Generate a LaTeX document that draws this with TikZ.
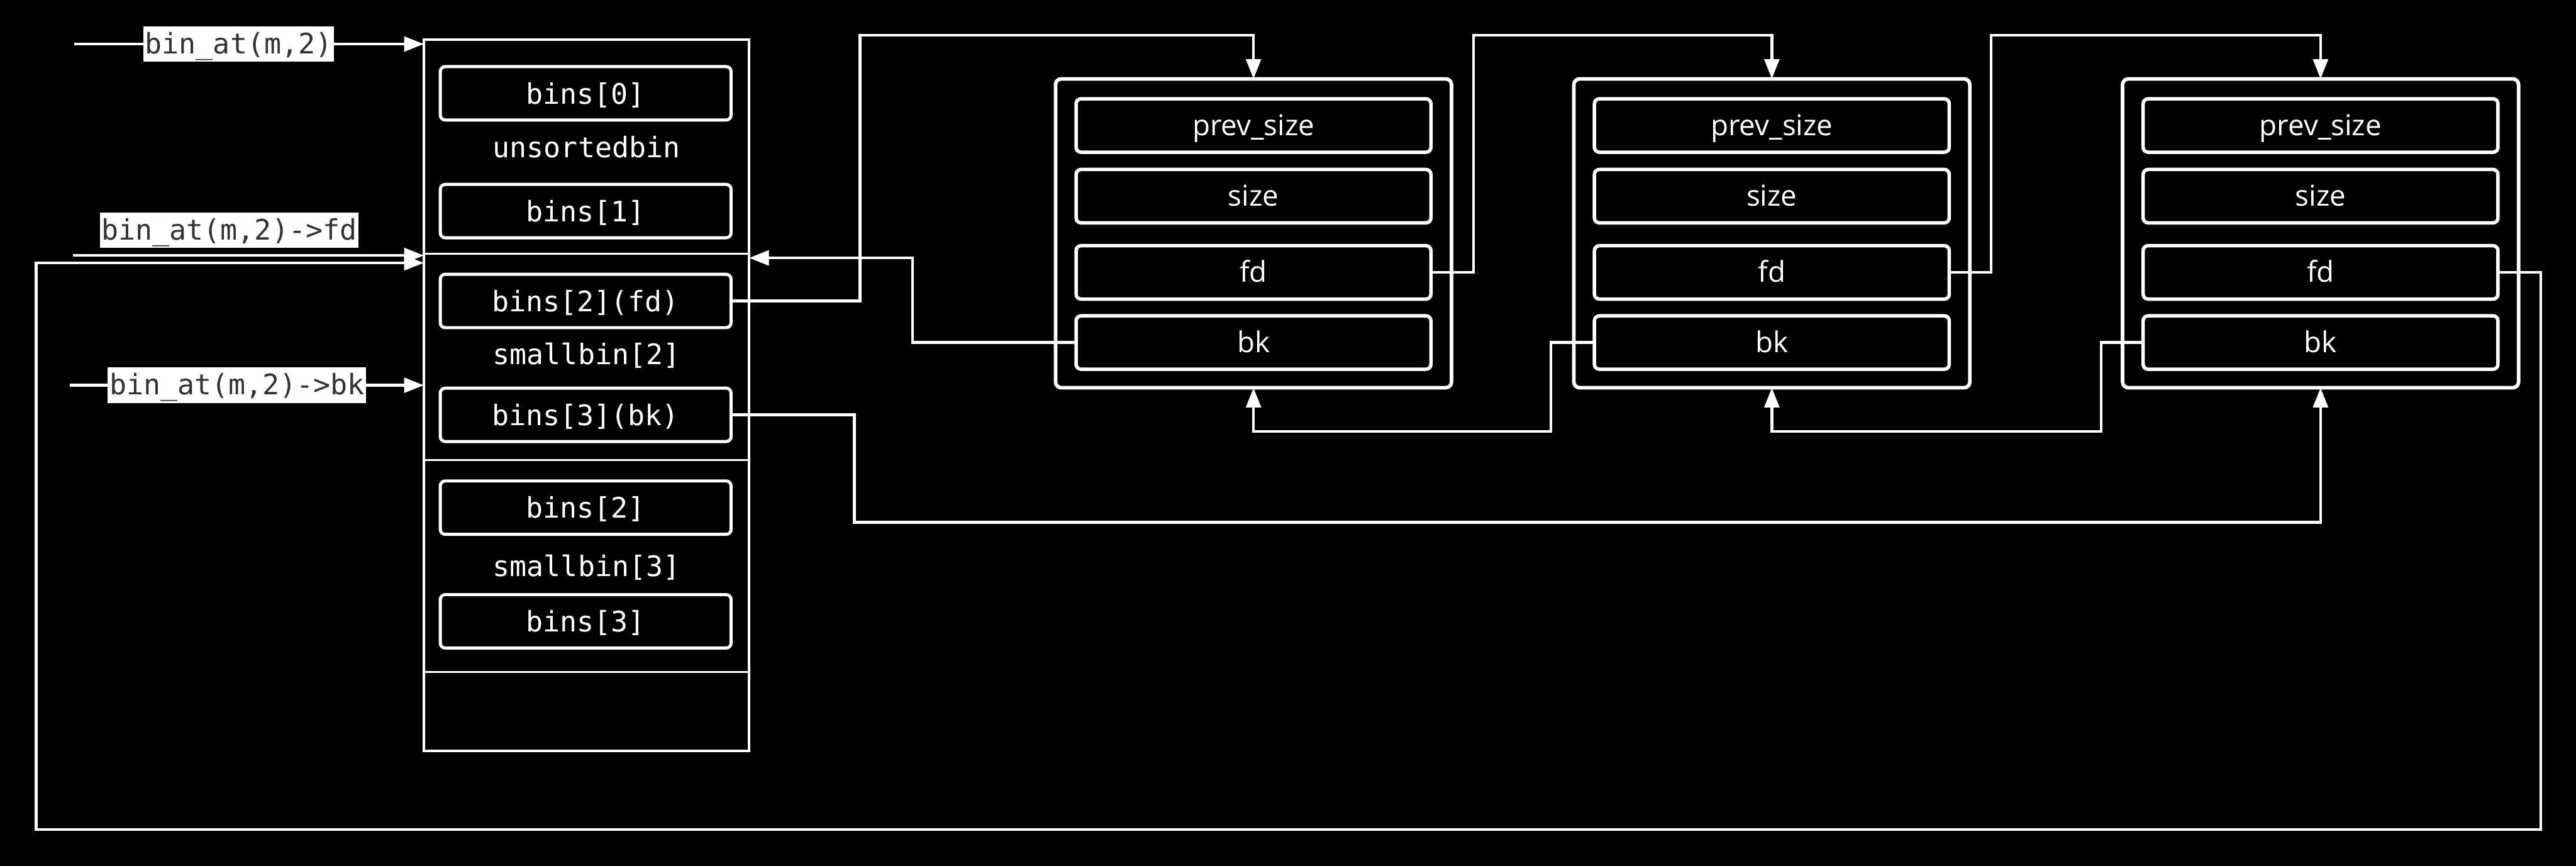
\documentclass[tikz,border=0pt]{standalone}
\usepackage{fontspec}
\setmainfont{Open Sans}
\newfontfamily\monofnt{DejaVu Sans Mono}
\usetikzlibrary{arrows.meta}
\definecolor{labtext}{HTML}{333333}
\begin{document}
\begin{tikzpicture}[x=1pt,y=-1pt,
  every node/.style={inner sep=0pt,outer sep=0pt},
  binsec/.style={draw=white,line width=1.4pt,minimum width=198pt},
  binfield/.style={draw=white,line width=1.9pt,rounded corners=3pt,minimum width=177pt,minimum height=32.5pt,text=white,text height=12.8pt,text depth=0pt,font=\monofnt\fontsize{17.2pt}{20pt}\selectfont},
  bincap/.style={text=white,anchor=base,font=\monofnt\fontsize{17.2pt}{20pt}\selectfont},
  chunkbox/.style={draw=white,line width=2.2pt,rounded corners=3.5pt,minimum width=241pt,minimum height=188pt},
  chunkfield/.style={draw=white,line width=2.1pt,rounded corners=3pt,minimum width=216pt,minimum height=32.5pt,text=white,text height=12pt,text depth=0pt,font=\fontsize{17.5pt}{21pt}\selectfont},
  ptrlabel/.style={fill=white,text=labtext,inner xsep=1pt,minimum height=21.5pt,text height=11.7pt,text depth=0pt,font=\monofnt\fontsize{17.2pt}{20pt}\selectfont},
  conn/.style={draw=white,line width=1.7pt},
  arr/.style={conn,-{Triangle[length=12pt,width=9pt]}}
]
\fill[black] (0,0) rectangle (1568,527);
\useasboundingbox (0,0) rectangle (1568,527);

% bins table
\node[binsec,minimum height=130.5pt] (sec0) at (357,89.25) {};
\node[binsec,minimum height=125.5pt] (sec1) at (357,217.25) {};
\node[binsec,minimum height=129pt] (sec2) at (357,344.5) {};
\node[binsec,minimum height=48pt] (sec3) at (357,433) {};

\node[binfield] (b0) at (356.5,56.8) {bins[0]};
\node[bincap] (cap0) at (357,96) {unsortedbin};
\node[binfield] (b1) at (356.5,128.5) {bins[1]};
\node[binfield] (b2fd) at (356.5,183.2) {bins[2](fd)};
\node[bincap] (cap1) at (357,222) {smallbin[2]};
\node[binfield] (b3bk) at (356.5,252.5) {bins[3](bk)};
\node[binfield] (b2) at (356.5,309) {bins[2]};
\node[bincap] (cap2) at (357,351) {smallbin[3]};
\node[binfield] (b3) at (356.5,378.2) {bins[3]};

% chunks
\foreach \i/\cx in {1/763,2/1078.5,3/1412.5}{
  \node[chunkbox] (c\i) at (\cx,142) {};
  \node[chunkfield] (ps\i) at (\cx,76.4) {prev\_size};
  \node[chunkfield] (sz\i) at (\cx,119.4) {size};
  \node[chunkfield] (fd\i) at (\cx,165.8) {fd};
  \node[chunkfield] (bk\i) at (\cx,208.5) {bk};
}

% pointer labels
\node[ptrlabel] (lab0) at (145.3,26.8) {bin\_at(m,2)};
\node[ptrlabel] (labfd) at (139.5,140.2) {bin\_at(m,2)->fd};
\node[ptrlabel] (labbk) at (144.3,234.5) {bin\_at(m,2)->bk};

% left pointers
\coordinate (s0) at (45,26.8);
\draw[conn] (s0) -- (lab0.west);
\draw[arr] (lab0.east) -- (lab0.east -| sec0.west);

\coordinate (sfd) at (44.5,155.5);
\draw[arr] (sfd) -- (sfd -| sec1.west);

\coordinate (sbk) at (42.6,234.5);
\draw[conn] (sbk) -- (labbk.west);
\draw[arr] (labbk.east) -- (labbk.east -| sec1.west);

% fd chain
\coordinate (r0) at (523.5,21.4);
\draw[arr] (b2fd.east) -| (r0) -| (c1.north);
\coordinate (r1) at (897,21.4);
\draw[arr] (fd1.east) -| (r1) -| (c2.north);
\coordinate (r2) at (1212,21.4);
\draw[arr] (fd2.east) -| (r2) -| (c3.north);

% bk chain
\coordinate (rb0) at (555.5,157);
\draw[arr] (bk1.west) -| (rb0) -- (rb0 -| sec1.east);
\coordinate (rb1) at (944,262.5);
\draw[arr] (bk2.west) -| (rb1) -| (c1.south);
\coordinate (rb2) at (1279,262.5);
\draw[arr] (bk3.west) -| (rb2) -| (c2.south);

\coordinate (rB) at (520,318);
\draw[arr] (b3bk.east) -| (rB) -| (c3.south);

% loop back
\coordinate (L1) at (1546.5,505);
\coordinate (L2) at (22,160);
\draw[arr] (fd3.east) -| (L1) -| (L2) -- (L2 -| sec1.west);
\end{tikzpicture}
\end{document}
